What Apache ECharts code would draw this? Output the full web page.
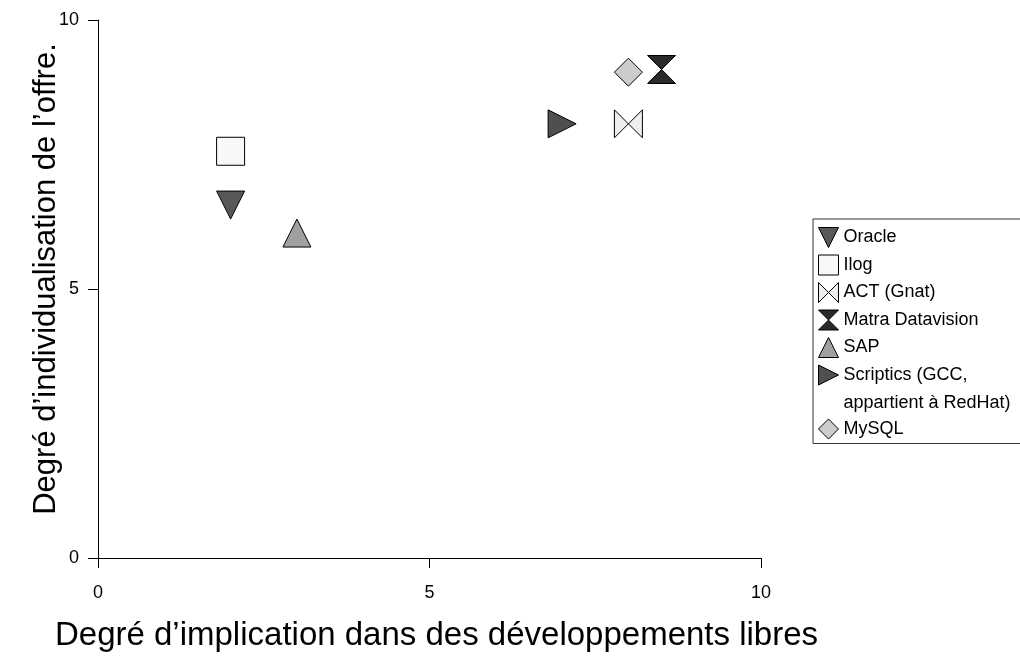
<!DOCTYPE html>
<html><head><meta charset="utf-8">
<script src="https://cdn.jsdelivr.net/npm/echarts@6/dist/echarts.min.js"></script>
<style>html,body{margin:0;padding:0;background:#fff}#c{width:1020px;height:657px}</style>
</head><body><div id="c"></div>
<script>
const seriesNames = ['Oracle', 'Ilog', 'ACT (Gnat)', 'Matra Datavision', 'SAP', 'Scriptics (GCC,\nappartient à RedHat)', 'MySQL'];
const xValues = [2, 2, 8, 8.5, 3, 7, 8];
const yValues = [6.56, 7.56, 8.07, 9.08, 6.04, 8.07, 9.03];
const fills = ['#585858', '#f8f8f8', '#eeeeee', '#2a2a2a', '#a0a0a0', '#4f4f4f', '#cccccc'];
const symbols = [
  'path://M0,0L10,0L5,10Z',
  'rect',
  'path://M0,0L5,5L0,10Z M10,0L5,5L10,10Z',
  'path://M0,0L10,0L5,5Z M0,10L10,10L5,5Z',
  'path://M5,0L10,10L0,10Z',
  'path://M0,0L10,5L0,10Z',
  'diamond'
];
const xAxisTitle = 'Degré d\u2019implication dans des développements libres';
const yAxisTitle = 'Degré d\u2019individualisation de l\u2019offre.';
const FONT = '"Liberation Sans", Arial, sans-serif';

const series = seriesNames.map((name, i) => ({
  name: name,
  type: 'scatter',
  data: [[xValues[i], yValues[i]]],
  symbol: symbols[i],
  symbolSize: 28,
  itemStyle: { color: fills[i], borderColor: '#000', borderWidth: 1, opacity: 1 },
  emphasis: { disabled: true }
}));

const legendData = seriesNames.map((name, i) => {
  const item = { name: name, icon: symbols[i], itemStyle: { color: fills[i], borderColor: '#000', borderWidth: 1 } };
  if (name.indexOf('\n') >= 0) {
    item.textStyle = {
      padding: [0, 0, -36, 0],
      rich: {
        l1: { lineHeight: 20, fontFamily: FONT, fontSize: 18, color: '#000' },
        l2: { lineHeight: 36, fontFamily: FONT, fontSize: 18, color: '#000' }
      }
    };
  }
  return item;
});

const chart = echarts.init(document.getElementById('c'));
chart.setOption({
  animation: false,
  backgroundColor: '#fff',
  grid: { left: 98, right: 259, top: 20, bottom: 99, containLabel: false },
  xAxis: {
    type: 'value', min: 0, max: 10, interval: 5,
    name: xAxisTitle, nameLocation: 'middle', nameGap: 61, nameMoveOverlap: false,
    nameTextStyle: { fontFamily: FONT, fontSize: 33, color: '#000', padding: [0, 0, 0, 14] },
    axisLine: { show: true, onZero: false, lineStyle: { color: '#000', width: 1 } },
    axisTick: { show: true, length: 10, lineStyle: { color: '#000' } },
    axisLabel: { margin: 26, fontFamily: FONT, fontSize: 18, color: '#000' },
    splitLine: { show: false }
  },
  yAxis: {
    type: 'value', min: 0, max: 10, interval: 5,
    name: yAxisTitle, nameLocation: 'middle', nameGap: 36, nameRotate: 90, nameMoveOverlap: false,
    nameTextStyle: { fontFamily: FONT, fontSize: 31, color: '#000', padding: [0, 0, 0, 20] },
    axisLine: { show: true, onZero: false, lineStyle: { color: '#000', width: 1 } },
    axisTick: { show: true, length: 10, lineStyle: { color: '#000' } },
    axisLabel: { margin: 19, fontFamily: FONT, fontSize: 18, color: '#000' },
    splitLine: { show: false }
  },
  legend: {
    orient: 'vertical', left: 813, top: 219,
    padding: [8, 12, 4, 5],
    borderColor: '#333', borderWidth: 1,
    itemWidth: 20, itemHeight: 20, itemGap: 6.5,
    selectedMode: false,
    formatter: function (name) {
      if (name.indexOf('\n') >= 0) {
        const parts = name.split('\n');
        return '{l1|' + parts[0] + '}\n{l2|' + parts[1] + '}';
      }
      return name;
    },
    textStyle: { fontFamily: FONT, fontSize: 18, color: '#000', lineHeight: 18 },
    data: legendData
  },
  series: series
});
</script></body></html>
